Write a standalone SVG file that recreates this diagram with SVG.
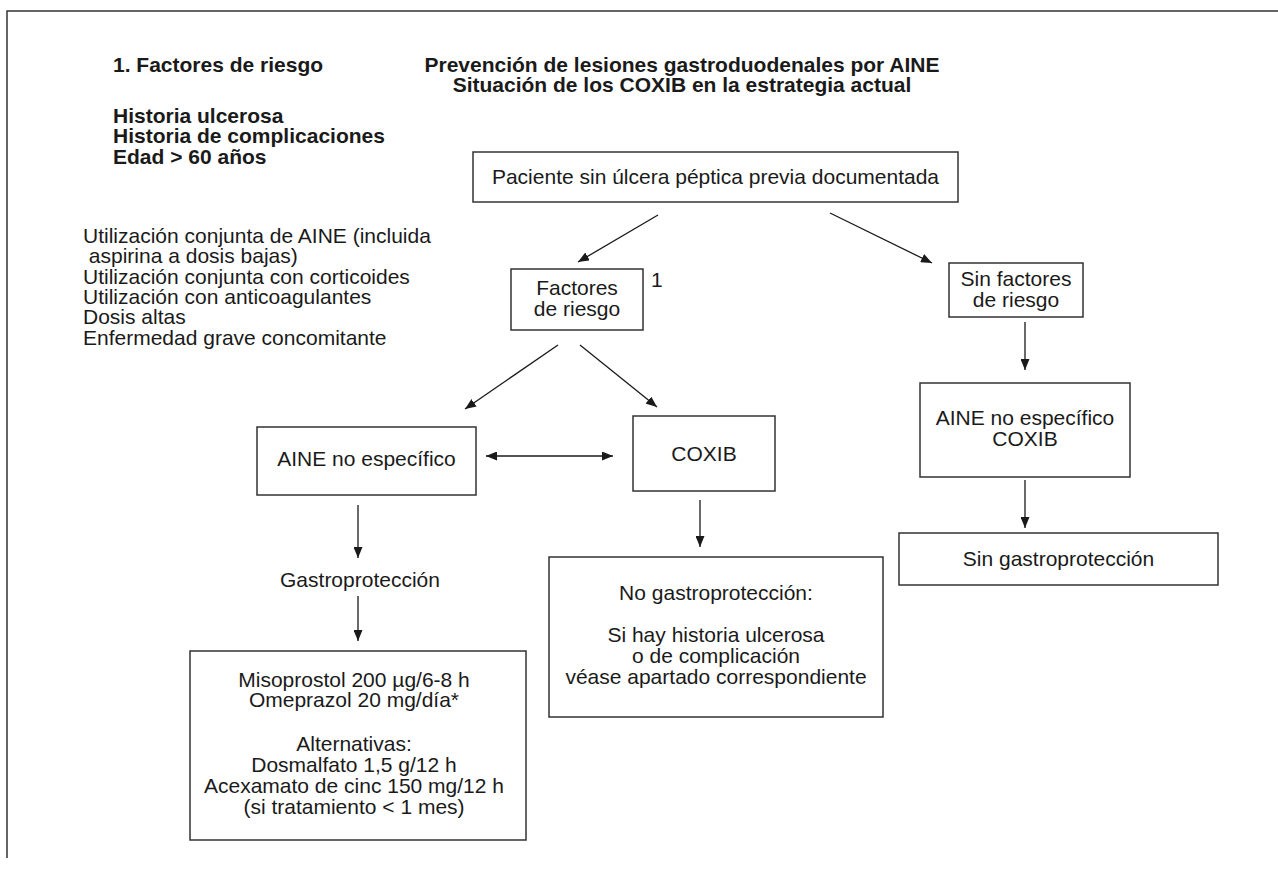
<svg xmlns="http://www.w3.org/2000/svg" width="1278" height="877" viewBox="0 0 1278 877">
  <defs>
    <marker id="ah" markerUnits="userSpaceOnUse" markerWidth="11" markerHeight="9" refX="11" refY="4.5" orient="auto-start-reverse">
      <path d="M0,0 L11,4.5 L0,9 z" fill="#1a1a1a"/>
    </marker>
    <style>
      .t { font-family: "Liberation Sans", Arial, Helvetica, sans-serif; font-size: 21px; fill: #1a1a1a; }
      .b { font-weight: bold; }
      .m { text-anchor: middle; }
      .box { fill: #ffffff; stroke: #333333; stroke-width: 1.5; }
      .ln { fill: none; stroke: #1a1a1a; stroke-width: 1.3; marker-end: url(#ah); }
    </style>
  </defs>
  <rect width="1278" height="877" fill="#ffffff"/>
  <path d="M7,858 V11 H1278" fill="none" stroke="#333333" stroke-width="1.5"/>

  <g id="legend">
    <text class="t b" x="113" y="72">1. Factores de riesgo</text>
    <text class="t b" x="113" y="123">Historia ulcerosa<tspan x="113" y="143">Historia de complicaciones</tspan><tspan x="113" y="164">Edad &gt; 60 años</tspan></text>
    <text class="t" x="83" y="243" xml:space="preserve">Utilización conjunta de AINE (incluida<tspan x="83" y="263"> aspirina a dosis bajas)</tspan><tspan x="83" y="284">Utilización conjunta con corticoides</tspan><tspan x="83" y="304">Utilización con anticoagulantes</tspan><tspan x="83" y="324">Dosis altas</tspan><tspan x="83" y="345">Enfermedad grave concomitante</tspan></text>
  </g>

  <g id="title">
    <text class="t b m" x="682" y="72">Prevención de lesiones gastroduodenales por AINE<tspan x="682" y="92">Situación de los COXIB en la estrategia actual</tspan></text>
  </g>

  <g id="connectors">
    <line class="ln" x1="658" y1="215" x2="578" y2="262"/>
    <line class="ln" x1="830" y1="213" x2="932" y2="263"/>
    <line class="ln" x1="558" y1="345" x2="465" y2="409"/>
    <line class="ln" x1="580" y1="345" x2="657" y2="407"/>
    <line class="ln" x1="486" y1="456" x2="613" y2="456" style="marker-start:url(#ah)"/>
    <line class="ln" x1="358" y1="505" x2="358" y2="558"/>
    <line class="ln" x1="358" y1="596" x2="358" y2="641"/>
    <line class="ln" x1="700" y1="500" x2="700" y2="547"/>
    <line class="ln" x1="1025" y1="322" x2="1025" y2="370"/>
    <line class="ln" x1="1025" y1="480" x2="1025" y2="528"/>
  </g>

  <g id="n-paciente">
    <rect class="box" x="473" y="152" width="485" height="50"/>
    <text class="t m" x="715.5" y="184">Paciente sin úlcera péptica previa documentada</text>
  </g>

  <g id="n-factores">
    <rect class="box" x="511" y="269" width="132" height="61"/>
    <text class="t m" x="577" y="295">Factores<tspan x="577" y="316">de riesgo</tspan></text>
    <text class="t" x="651" y="287">1</text>
  </g>

  <g id="n-sinfactores">
    <rect class="box" x="949" y="263" width="134" height="54"/>
    <text class="t m" x="1016" y="286">Sin factores<tspan x="1016" y="307">de riesgo</tspan></text>
  </g>

  <g id="n-aine">
    <rect class="box" x="257" y="427" width="219" height="68"/>
    <text class="t m" x="366.5" y="466">AINE no específico</text>
  </g>

  <g id="n-coxib">
    <rect class="box" x="633" y="416" width="142" height="75"/>
    <text class="t m" x="704" y="461">COXIB</text>
  </g>

  <g id="n-gastro">
    <text class="t m" x="360" y="587">Gastroprotección</text>
  </g>

  <g id="n-miso">
    <rect class="box" x="190" y="651" width="336" height="189"/>
    <text class="t m" x="354" y="687">Misoprostol 200 µg/6-8 h<tspan x="354" y="707">Omeprazol 20 mg/día*</tspan><tspan x="354" y="751">Alternativas:</tspan><tspan x="354" y="772">Dosmalfato 1,5 g/12 h</tspan><tspan x="354" y="793">Acexamato de cinc 150 mg/12 h</tspan><tspan x="354" y="814">(si tratamiento &lt; 1 mes)</tspan></text>
  </g>

  <g id="n-nogastro">
    <rect class="box" x="549" y="557" width="334" height="160"/>
    <text class="t m" x="716" y="600">No gastroprotección:<tspan x="716" y="642">Si hay historia ulcerosa</tspan><tspan x="716" y="663">o de complicación</tspan><tspan x="716" y="684">véase apartado correspondiente</tspan></text>
  </g>

  <g id="n-ainecoxib">
    <rect class="box" x="920" y="383" width="210" height="94"/>
    <text class="t m" x="1025" y="425">AINE no específico<tspan x="1025" y="446">COXIB</tspan></text>
  </g>

  <g id="n-singastro">
    <rect class="box" x="899" y="533" width="319" height="52"/>
    <text class="t m" x="1058.5" y="566">Sin gastroprotección</text>
  </g>
</svg>
